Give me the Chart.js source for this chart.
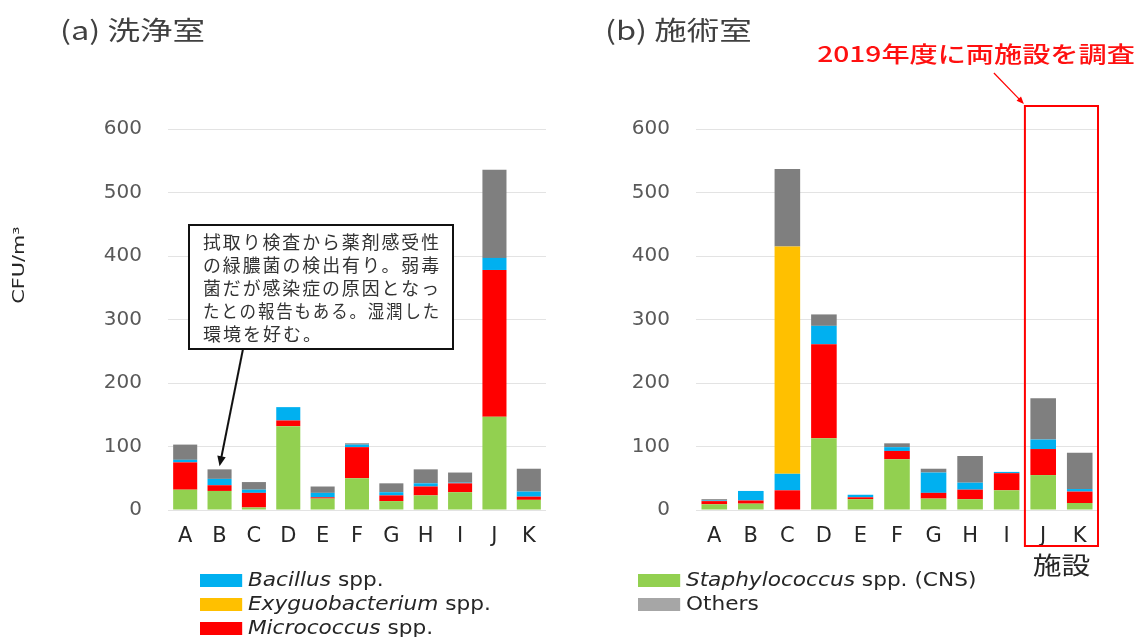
<!DOCTYPE html>
<html lang="ja">
<head>
<meta charset="utf-8">
<script src="https://cdn.jsdelivr.net/npm/chart.js@4.4.1/dist/chart.umd.min.js"></script>
<style>
  body { margin: 0; background: #fff; }
  #wrap { position: relative; width: 1142px; height: 637px; overflow: hidden; background: #fff; }
  #chartWash { position: absolute; left: 0; top: 0; }
  #chartTreat { position: absolute; left: 570px; top: 0; }
  .legend { position: absolute; font-family: "DejaVu Sans", sans-serif; font-size: 19px; color: #262626;
            transform: scaleX(1.14); transform-origin: left top; }
  .legend div { height: 24px; line-height: 24px; white-space: nowrap; }
  .legend span.sw { display: inline-block; width: 37px; height: 13px; margin-right: 5px; vertical-align: -1px; }
</style>
</head>
<body>
<div id="wrap">
  <canvas id="chartWash" width="570" height="637"></canvas>
  <canvas id="chartTreat" width="572" height="637"></canvas>
  <div class="legend" style="left:200px; top:567px;">
    <div><span class="sw" style="background:#00B0F0"></span><i>Bacillus</i> spp.</div>
    <div><span class="sw" style="background:#FFC000"></span><i>Exyguobacterium</i> spp.</div>
    <div><span class="sw" style="background:#FF0000"></span><i>Micrococcus</i> spp.</div>
  </div>
  <div class="legend" style="left:638px; top:567px;">
    <div><span class="sw" style="background:#92D050"></span><i>Staphylococcus</i> spp. (CNS)</div>
    <div><span class="sw" style="background:#A6A6A6"></span>Others</div>
  </div>
</div>
<script>
// 施設ラベル
const sites = ['A', 'B', 'C', 'D', 'E', 'F', 'G', 'H', 'I', 'J', 'K'];

// (a) 洗浄室 (CFU/m3)
const washStaph  = [32, 30, 4, 132, 18, 50, 14, 23, 28, 147, 16];
const washMicro  = [43, 9, 23, 9, 2, 49, 9, 14, 14, 231, 5];
const washBacil  = [4, 10, 5, 21, 7, 4, 5, 5, 1, 19, 8];
const washExy    = [0, 0, 0, 0, 0, 0, 0, 0, 0, 0, 0];
const washOthers = [24, 15, 12, 0, 10, 2, 14, 22, 16, 139, 36];

// (b) 施術室 (CFU/m3)
const treatStaph  = [9, 10, 0, 113, 17, 80, 18, 17, 31, 55, 11];
const treatMicro  = [5, 5, 31, 148, 3, 13, 9, 15, 27, 41, 18];
const treatBacil  = [1, 15, 26, 29, 4, 6, 32, 11, 2, 15, 4];
const treatExy    = [0, 0, 358, 0, 0, 0, 0, 0, 0, 0, 0];
const treatOthers = [2, 0, 122, 18, 0, 6, 6, 42, 0, 65, 57];

const yTicks = [0, 100, 200, 300, 400, 500, 600];

const calloutLines = [
    '拭取り検査から薬剤感受性',
    'の緑膿菌の検出有り。弱毒',
    '菌だが感染症の原因となっ',
    'たとの報告もある。湿潤した',
    '環境を好む。'
];

function makeDatasets(staph, micro, bacil, exy, others) {
    const common = { barPercentage: 0.7, categoryPercentage: 1.0, borderWidth: 0 };
    return [
        { label: 'Staphylococcus spp. (CNS)', data: staph, backgroundColor: '#92D050', ...common },
        { label: 'Micrococcus spp.', data: micro, backgroundColor: '#FF0000', ...common },
        { label: 'Bacillus spp.', data: bacil, backgroundColor: '#00B0F0', ...common },
        { label: 'Exyguobacterium spp.', data: exy, backgroundColor: '#FFC000', ...common },
        { label: 'Others', data: others, backgroundColor: '#7F7F7F', ...common }
    ];
}

// 横に引き伸ばしたテキスト
function wideText(ctx, text, x, y, sx, align) {
    ctx.save();
    ctx.translate(x, y);
    ctx.scale(sx, 1);
    ctx.textAlign = align;
    ctx.fillText(text, 0, 0);
    ctx.restore();
}

function drawArrow(ctx, x1, y1, x2, y2, color, width, head) {
    const ang = Math.atan2(y2 - y1, x2 - x1);
    ctx.save();
    ctx.strokeStyle = color;
    ctx.fillStyle = color;
    ctx.lineWidth = width;
    ctx.beginPath();
    ctx.moveTo(x1, y1);
    ctx.lineTo(x2 - Math.cos(ang) * head * 0.8, y2 - Math.sin(ang) * head * 0.8);
    ctx.stroke();
    ctx.beginPath();
    ctx.moveTo(x2, y2);
    ctx.lineTo(x2 - head * Math.cos(ang - 0.4), y2 - head * Math.sin(ang - 0.4));
    ctx.lineTo(x2 - head * Math.cos(ang + 0.4), y2 - head * Math.sin(ang + 0.4));
    ctx.closePath();
    ctx.fill();
    ctx.restore();
}

function baseOptions(yWidth, padRight) {
    return {
        responsive: false,
        animation: false,
        layout: { padding: { top: 129, right: padRight, bottom: 87, left: 0 } },
        plugins: { legend: { display: false }, tooltip: { enabled: false } },
        scales: {
            x: {
                stacked: true,
                grid: { display: false },
                border: { display: false },
                ticks: { color: '#262626', font: { family: 'DejaVu Sans', size: 21 }, padding: 6 },
                afterFit: s => { s.height = 40; }
            },
            y: {
                stacked: true,
                min: 0,
                max: 600,
                afterBuildTicks: s => { s.ticks = yTicks.map(v => ({ value: v })); },
                ticks: { color: '#595959', font: { family: 'DejaVu Sans', size: 20 }, padding: 26 },
                grid: { color: '#e3e3e3', lineWidth: 1, drawTicks: false },
                border: { display: false },
                afterFit: s => { s.width = yWidth; }
            }
        }
    };
}

const washOverlay = {
    id: 'washOverlay',
    afterDraw(chart) {
        const ctx = chart.ctx;
        const xs = chart.scales.x, ys = chart.scales.y;
        ctx.save();
        ctx.textBaseline = 'middle';
        ctx.fillStyle = '#404040';
        ctx.font = '26px "Noto Sans CJK JP"';
        wideText(ctx, '(a) 洗浄室', 60, 30, 1.25, 'left');

        // 縦軸タイトル
        ctx.save();
        ctx.translate(20, 265);
        ctx.rotate(-Math.PI / 2);
        ctx.fillStyle = '#262626';
        ctx.font = '16px "DejaVu Sans"';
        wideText(ctx, 'CFU/m³', 0, 0, 1.3, 'center');
        ctx.restore();

        // 吹き出し
        const bx = 189, by = 225, bw = 264, bh = 124;
        ctx.fillStyle = '#fff';
        ctx.fillRect(bx, by, bw, bh);
        ctx.strokeStyle = '#111';
        ctx.lineWidth = 2;
        ctx.strokeRect(bx, by, bw, bh);
        ctx.fillStyle = '#333';
        ctx.font = '18px "Noto Sans CJK JP"';
        ctx.letterSpacing = '2px';
        ctx.textAlign = 'left';
        calloutLines.forEach((line, i) => {
            ctx.fillText(line, bx + 14, by + 17 + i * 23, 238);
        });
        ctx.letterSpacing = '0px';

        const tipX = xs.getPixelForValue(1);
        const totalB = washStaph[1] + washMicro[1] + washBacil[1] + washExy[1] + washOthers[1];
        const tipY = ys.getPixelForValue(totalB) - 3;
        drawArrow(ctx, 243, by + bh, tipX, tipY, '#111', 2, 11);
        ctx.restore();
    }
};

const treatOverlay = {
    id: 'treatOverlay',
    afterDraw(chart) {
        const ctx = chart.ctx;
        const xs = chart.scales.x;
        const area = chart.chartArea;
        ctx.save();
        ctx.textBaseline = 'middle';
        ctx.fillStyle = '#404040';
        ctx.font = '26px "Noto Sans CJK JP"';
        wideText(ctx, '(b) 施術室', 35, 30, 1.25, 'left');

        // 2019年度に調査した施設 J, K を囲む
        const half = (xs.getPixelForValue(1) - xs.getPixelForValue(0)) / 2;
        const left = xs.getPixelForValue(9) - half;
        const right = xs.getPixelForValue(10) + half;
        const top = area.top - 23;
        const bottom = area.bottom + 36;
        ctx.strokeStyle = '#FF0000';
        ctx.lineWidth = 2;
        ctx.strokeRect(left, top, right - left, bottom - top);

        ctx.fillStyle = '#FF1010';
        ctx.font = '500 22px "Noto Sans CJK JP"';
        wideText(ctx, '2019年度に両施設を調査', 406, 54, 1.28, 'center');
        drawArrow(ctx, left - 31, 73, left - 1, top - 2, '#FF0000', 1.2, 8);

        ctx.fillStyle = '#262626';
        ctx.font = '24px "Noto Sans CJK JP"';
        wideText(ctx, '施設', (left + right) / 2, 565, 1.2, 'center');
        ctx.restore();
    }
};

new Chart(document.getElementById('chartWash'), {
    type: 'bar',
    data: { labels: sites, datasets: makeDatasets(washStaph, washMicro, washBacil, washExy, washOthers) },
    options: baseOptions(168, 24),
    plugins: [washOverlay]
});

new Chart(document.getElementById('chartTreat'), {
    type: 'bar',
    data: { labels: sites, datasets: makeDatasets(treatStaph, treatMicro, treatBacil, treatExy, treatOthers) },
    options: baseOptions(126, 44),
    plugins: [treatOverlay]
});
</script>
</body>
</html>
